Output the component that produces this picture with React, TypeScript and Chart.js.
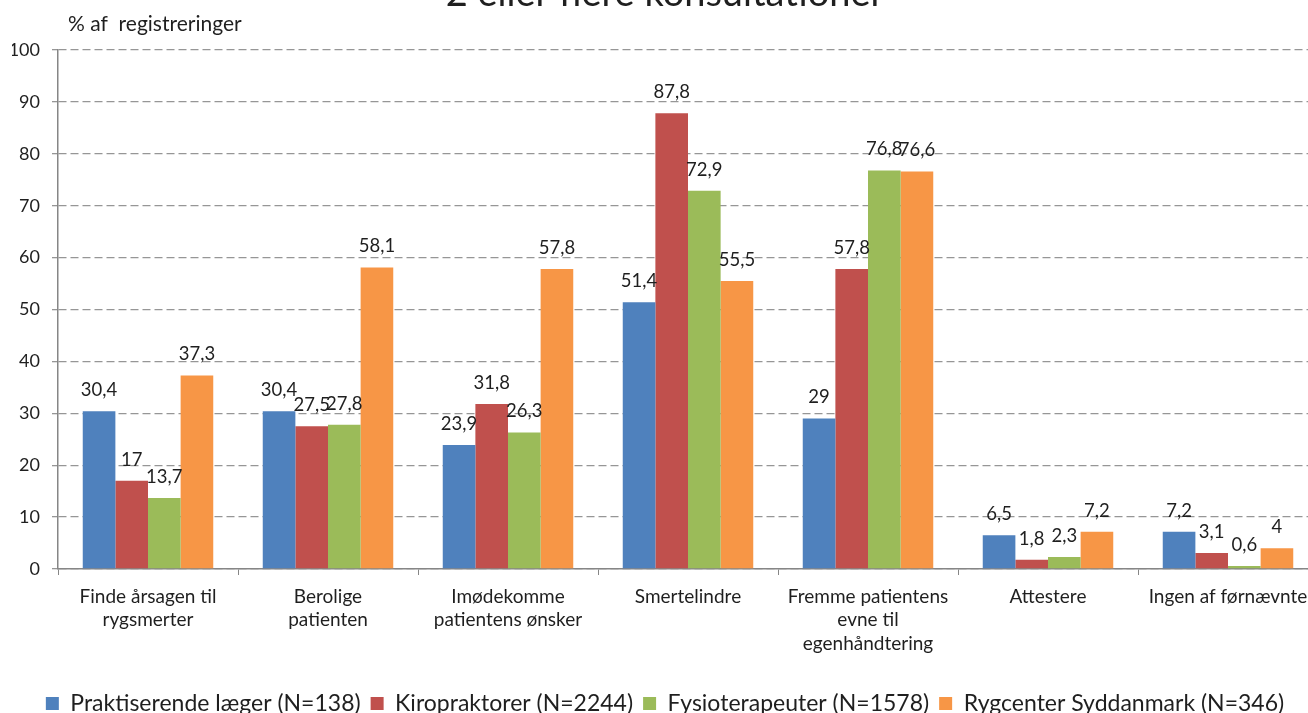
import React, { useEffect, useRef } from 'react';
import { Chart, registerables } from 'chart.js';

Chart.register(...registerables);

const titleText = '2 eller flere konsultationer';
const yAxisLabel = '% af  registreringer';

const categories: (string | string[])[] = [
  ['Finde årsagen til', 'rygsmerter'],
  ['Berolige', 'patienten'],
  ['Imødekomme', 'patientens ønsker'],
  'Smertelindre',
  ['Fremme patientens', 'evne til', 'egenhåndtering'],
  'Attestere',
  'Ingen af førnævnte',
];

const seriesNames = [
  'Praktiserende læger (N=138)',
  'Kiropraktorer (N=2244)',
  'Fysioterapeuter (N=1578)',
  'Rygcenter Syddanmark (N=346)',
];

const praktiserende = [30.4, 30.4, 23.9, 51.4, 29, 6.5, 7.2];
const kiropraktorer = [17, 27.5, 31.8, 87.8, 57.8, 1.8, 3.1];
const fysioterapeuter = [13.7, 27.8, 26.3, 72.9, 76.8, 2.3, 0.6];
const rygcenter = [37.3, 58.1, 57.8, 55.5, 76.6, 7.2, 4];

const seriesColors = ['#4F81BD', '#C0504D', '#9BBB59', '#F79646'];

const yMin = 0;
const yMax = 100;
const yStep = 10;

const FONT = 'Lato';
const TEXT = '#1f1f1f';

const fmt = (v: number) => String(v).replace('.', ',');

const valueLabels = {
  id: 'valueLabels',
  afterDatasetsDraw(chart: any) {
    const ctx = chart.ctx;
    ctx.save();
    ctx.font = `18.5px ${FONT}`;
    ctx.fillStyle = TEXT;
    ctx.textAlign = 'center';
    ctx.textBaseline = 'middle';
    chart.data.datasets.forEach((ds: any, i: number) => {
      const meta = chart.getDatasetMeta(i);
      meta.data.forEach((el: any, j: number) => {
        ctx.fillText(fmt(ds.data[j]), el.x, el.y - 21);
      });
    });
    ctx.restore();
  },
};

const axisLabel = {
  id: 'axisLabel',
  afterDraw(chart: any) {
    const ctx = chart.ctx;
    ctx.save();
    ctx.font = `21px ${FONT}`;
    ctx.fillStyle = TEXT;
    ctx.textAlign = 'left';
    ctx.textBaseline = 'middle';
    ctx.fillText(yAxisLabel, 68, 54);
    ctx.restore();
  },
};

export default function App() {
  const ref = useRef<HTMLCanvasElement | null>(null);
  useEffect(() => {
    if (!ref.current) return;
    const allSeries = [praktiserende, kiropraktorer, fysioterapeuter, rygcenter];
    const chart = new Chart(ref.current, {
      type: 'bar',
      data: {
        labels: categories,
        datasets: allSeries.map((d, i) => ({
          label: seriesNames[i],
          data: d,
          backgroundColor: seriesColors[i],
          borderWidth: 0,
          categoryPercentage: 0.725,
          barPercentage: 1,
        })),
      },
      options: {
        responsive: false,
        animation: false,
        devicePixelRatio: 1,
        layout: { padding: { left: 12, right: 28, top: 0, bottom: 5 } },
        plugins: {
          title: {
            display: true,
            text: titleText,
            color: TEXT,
            font: { family: FONT, size: 38, weight: 'normal', lineHeight: 1.2 },
            padding: { top: 1, bottom: 33.4 },
          },
          legend: {
            position: 'bottom',
            labels: {
              boxWidth: 13,
              boxHeight: 13,
              padding: 10,
              color: TEXT,
              font: { family: FONT, size: 23 },
            },
          },
          tooltip: { enabled: false },
        },
        scales: {
          x: {
            afterFit: (s: any) => { s.height = 113; },
            grid: {
              display: true,
              drawOnChartArea: false,
              drawTicks: true,
              tickLength: 6,
              color: '#868686',
              offset: true,
            },
            border: { display: true, color: '#868686', width: 1.5 },
            ticks: {
              color: TEXT,
              padding: 10,
              maxRotation: 0,
              autoSkip: false,
              font: { family: FONT, size: 19, lineHeight: 1.24 },
            },
          },
          y: {
            min: yMin,
            max: yMax,
            afterFit: (s: any) => { s.width = 46; },
            grid: {
              color: '#969696',
              lineWidth: 1.3,
              tickLength: 6,
            },
            border: { display: true, color: '#868686', width: 1.5, dash: [8, 4] },
            ticks: {
              stepSize: yStep,
              color: TEXT,
              padding: 12,
              font: { family: FONT, size: 18 },
            },
          },
        },
      },
      plugins: [valueLabels, axisLabel],
    });
    return () => chart.destroy();
  }, []);

  return (
    <div style={{ position: 'fixed', left: 0, top: 0, width: 1308, height: 713, overflow: 'hidden', background: '#fff' }}>
      <div style={{ position: 'absolute', left: 0, top: -30, width: 1346, height: 760 }}>
        <canvas ref={ref} width={1346} height={760} style={{ width: 1346, height: 760, display: 'block' }} />
      </div>
    </div>
  );
}
